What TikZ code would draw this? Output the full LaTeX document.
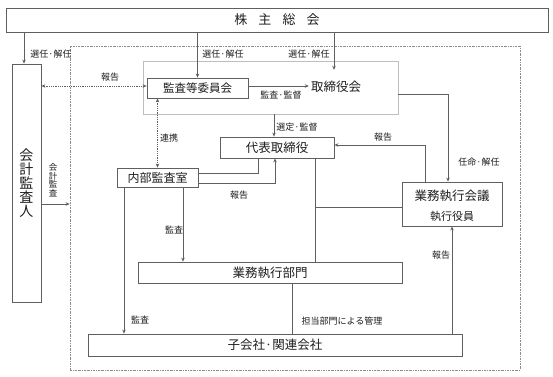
\documentclass[tikz,border=0pt]{standalone}
\usepackage{fontspec}
\setmainfont{Noto Sans CJK JP}
\usetikzlibrary{arrows.meta,calc}
\definecolor{ln}{RGB}{95,95,95}
\definecolor{tx}{RGB}{30,30,30}
\definecolor{grpc}{RGB}{190,190,190}
\definecolor{outc}{RGB}{140,140,140}
\newcommand\fsz[1]{\fontsize{#1}{#1}\selectfont}
\begin{document}
\begin{tikzpicture}[x=1pt,y=-1pt,
  box/.style={draw=ln,line width=0.8pt,fill=white,text=tx,inner sep=0pt,align=center},
  lbl/.style={font=\fsz{9},text=tx,inner sep=0pt},
  conn/.style={draw=ln,line width=0.8pt},
  arr/.style={conn,-{Stealth[length=4pt,width=3.5pt]}},
  darr/.style={conn,densely dotted,{Stealth[length=4pt,width=3.5pt]}-{Stealth[length=4pt,width=3.5pt]}}]
\useasboundingbox (0,0) rectangle (553,376);
\fill[white] (0,0) rectangle (553,376);
% outer dash-dot frame
\node[draw=outc,line width=0.7pt,dash pattern=on 2pt off 1pt on 0.6pt off 1pt,minimum width=450pt,minimum height=324pt,inner sep=0pt] (outer) at (295,208) {};
% group box
\node[draw=grpc,line width=0.8pt,fill=white,minimum width=255pt,minimum height=53pt,inner sep=0pt] (grp) at (270.5,87.5) {};
% nodes
\node[box,minimum width=542pt,minimum height=24pt,font=\fsz{13}] (kabu) at (277,20) {株\hspace{0.85em}主\hspace{0.85em}総\hspace{0.85em}会};
\node[box,minimum width=29pt,minimum height=238pt,font=\fsz{14}] (kaikei) at (26.5,183) {会\\計\\監\\査\\人};
\node[box,minimum width=101pt,minimum height=20pt,font=\fsz{11.5}] (kansa) at (197.5,88) {監査等委員会};
\node[text=tx,font=\fsz{12.5},inner xsep=2pt,inner ysep=0pt,minimum height=34pt] (tori) at (336,87) {取締役会};
\node[box,minimum width=114pt,minimum height=21pt,font=\fsz{12.5}] (daihyo) at (277,147.5) {代表取締役};
\node[box,minimum width=81pt,minimum height=19pt,font=\fsz{12}] (naibu) at (157.5,177.5) {内部監査室};
\node[box,minimum width=100pt,minimum height=44pt] (kaigi) at (452,204) {};
\node[text=tx,font=\fsz{12.5},inner sep=0pt] (kaigiT) at (452,196) {業務執行会議};
\node[text=tx,font=\fsz{11},inner sep=0pt] (yakuin) at (452,216.5) {執行役員};
\node[box,minimum width=264pt,minimum height=21pt,font=\fsz{12.5}] (gyomu) at (270,272.5) {業務執行部門};
\node[box,minimum width=374pt,minimum height=22pt,font=\fsz{12.5}] (ko) at (275,345) {子会社·関連会社};
% helper coordinates
\coordinate (kwL) at ([yshift=2pt]kansa.west);
\coordinate (dB) at ([xshift=38pt]daihyo.south);
\coordinate (kgW) at ([yshift=-3pt]kaigi.west);
\coordinate (trR) at ([yshift=-7pt]tori.center);
% connectors
\draw[arr] ([xshift=-2.5pt]kaikei.north |- kabu.south) -- ([xshift=-2.5pt]kaikei.north);
\draw[arr] (kansa.north |- kabu.south) -- (kansa.north);
\draw[arr] ([xshift=-2pt]tori.north |- kabu.south) -- ([xshift=-2pt]tori.north);
\draw[arr] ([yshift=2pt]kansa.east) -- ([yshift=2pt]kansa.east -| tori.west);
\draw[arr] (trR -| grp.east) -| ([xshift=-4pt]kaigi.north);
\draw[arr] ([xshift=-3pt]daihyo.north |- grp.south) -- ([xshift=-3pt]daihyo.north);
\draw[darr] (kwL -| kaikei.east) -- (kwL);
\draw[darr] (naibu.north |- kansa.south) -- (naibu.north);
\draw[conn] ([yshift=4.5pt]naibu.east) -| ([xshift=-19pt]daihyo.south);
\draw[arr] ([yshift=-5.5pt]naibu.east) -| ([xshift=-2pt]daihyo.south);
\draw[arr] ([xshift=-27pt]kaigi.north) |- ([yshift=2.5pt]daihyo.east);
\draw[conn] (dB) -- (dB |- gyomu.north);
\draw[conn] (dB |- kgW) -- (kgW);
\draw[arr] ([xshift=-33.5pt]naibu.south) -- ([xshift=-33.5pt]naibu.south |- ko.north);
\draw[arr] ([xshift=25.5pt]naibu.south) -- ([xshift=25.5pt]naibu.south |- gyomu.north);
\draw[conn] ([xshift=22pt]gyomu.south) -- ([xshift=22pt]gyomu.south |- ko.north);
\draw[arr] (kaigi.south |- ko.north) -- (kaigi.south);
\draw[arr] ([yshift=-21pt]kaikei.east) -- ([yshift=-21pt]kaikei.east -| outer.west);
% labels
\node[lbl] (l1) at (51,54) {選任·解任};
\node[lbl] (l2) at (223,54) {選任·解任};
\node[lbl] (l3) at (309,54) {選任·解任};
\node[lbl] (l4) at (110,77) {報告};
\node[lbl] (l5) at (281,95) {監査·監督};
\node[lbl] (l6) at (297,127) {選定·監督};
\node[lbl] (l7) at (169,138) {連携};
\node[lbl] (l8) at (239,195) {報告};
\node[lbl] (l9) at (383,137) {報告};
\node[lbl] (l10) at (479,162) {任命·解任};
\node[lbl] (l11) at (174,230) {監査};
\node[lbl] (l12) at (140,320) {監査};
\node[lbl] (l13) at (342,321) {担当部門による管理};
\node[lbl] (l14) at (441,255) {報告};
\node[lbl,align=center,font=\fsz{8.5}] (l15) at (53,180) {会\\計\\監\\査};
\end{tikzpicture}
\end{document}
